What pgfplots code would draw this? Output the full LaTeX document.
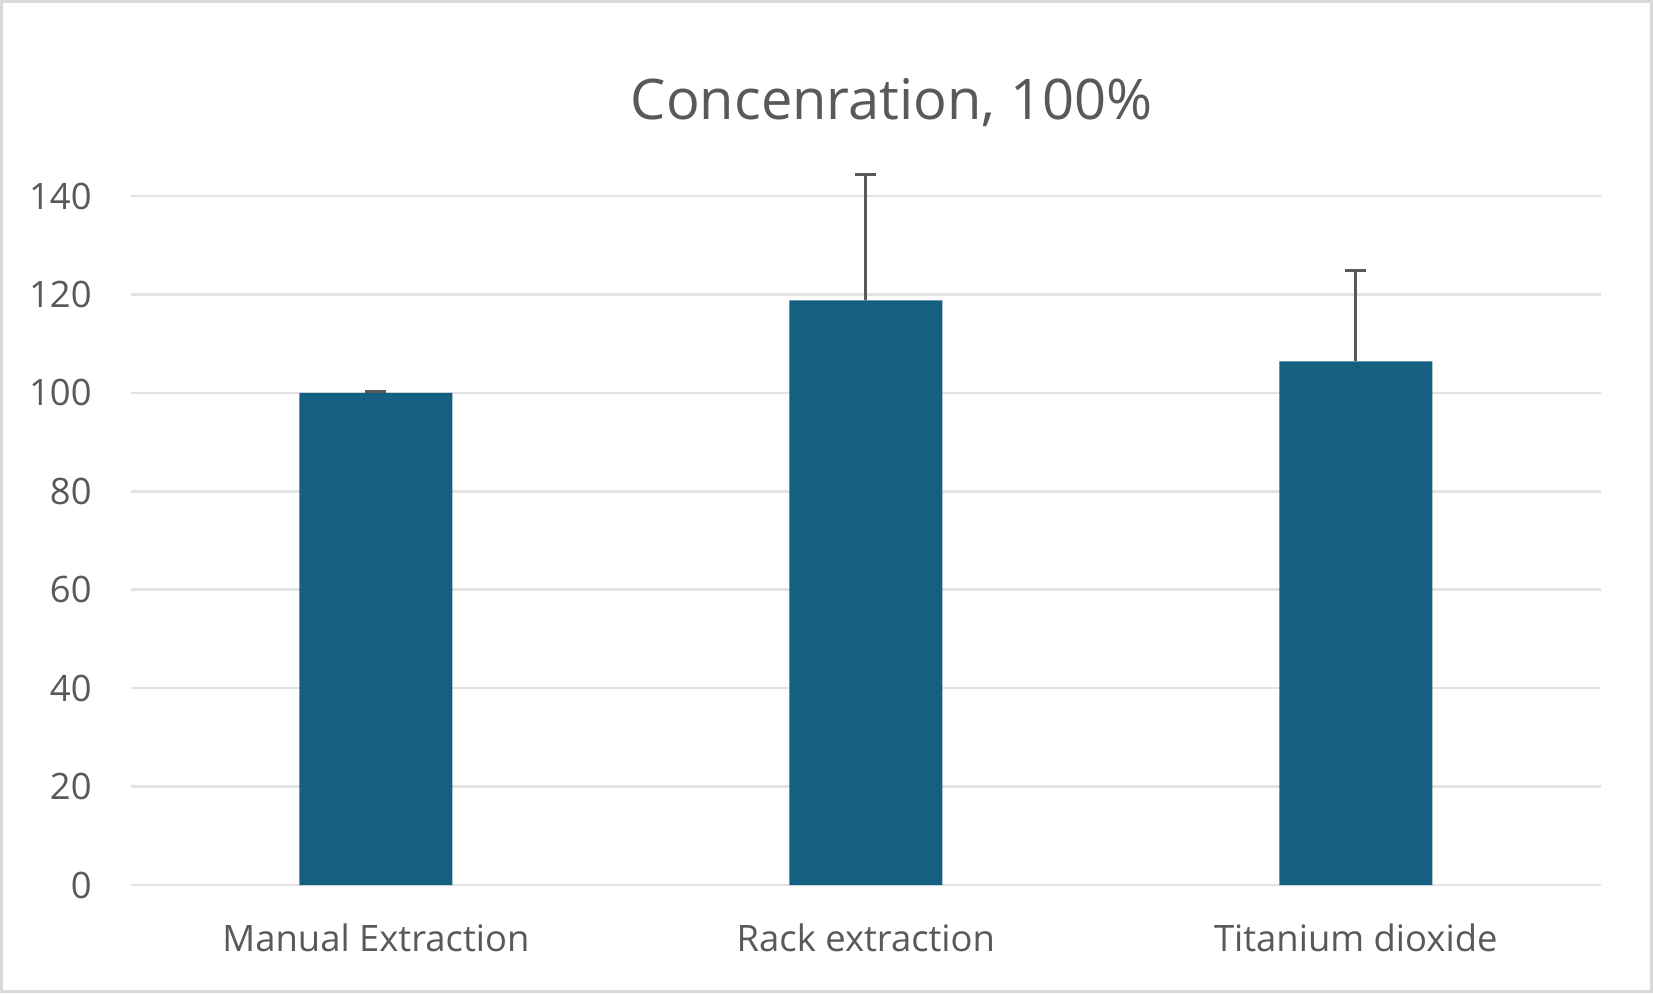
\documentclass[border=0pt]{standalone}
\usepackage{fontspec}
\setmainfont{Open Sans}
\usepackage{pgfplots}
\pgfplotsset{compat=1.18}
\definecolor{barblue}{HTML}{156082}
\definecolor{txt}{HTML}{595959}
\definecolor{gridc}{HTML}{E3E3E3}
\definecolor{framec}{HTML}{D9D9D9}
\begin{document}
\begin{tikzpicture}
\draw[framec, line width=1.5pt, fill=white] (0.75pt,0.75pt) rectangle (825.75pt,495.75pt);
\begin{axis}[
  at={(65.5pt,54pt)}, anchor=south west, scale only axis,
  width=734.85pt, height=344.5pt,
  xmin=-0.5, xmax=2.5, ymin=0, ymax=140,
  ytick={0,20,...,140}, xtick={0,1,2},
  xticklabels={Manual Extraction, Rack extraction, Titanium dioxide},
  axis line style={draw=none}, major tick length=0pt,
  ymajorgrids, grid style={gridc, line width=1.3pt},
  tick label style={font=\fontsize{18.2}{22}\selectfont, text=txt, inner sep=0pt},
  /pgf/number format/assume math mode=true,
  xticklabel shift=19pt, yticklabel shift=19.5pt,
  x tick label style={anchor=north},
  y tick label style={anchor=east},
  clip=false,
  ybar, bar width=76.5pt,
]
\addplot[fill=barblue, draw=none,
  error bars/.cd, y dir=plus, y explicit,
  error bar style={color=txt, line width=1.4pt},
  error mark options={rotate=90, mark size=5.25pt, line width=1.4pt, color=txt}]
  coordinates {(0,100) +- (0,0.3) (1,118.8) +- (0,25.6) (2,106.4) +- (0,18.4)};
\end{axis}
\node[text=txt, font=\fontsize{28}{34}\selectfont, anchor=base] at (445.75pt,436.5pt) {Concenration, 100\%};
\end{tikzpicture}
\end{document}
